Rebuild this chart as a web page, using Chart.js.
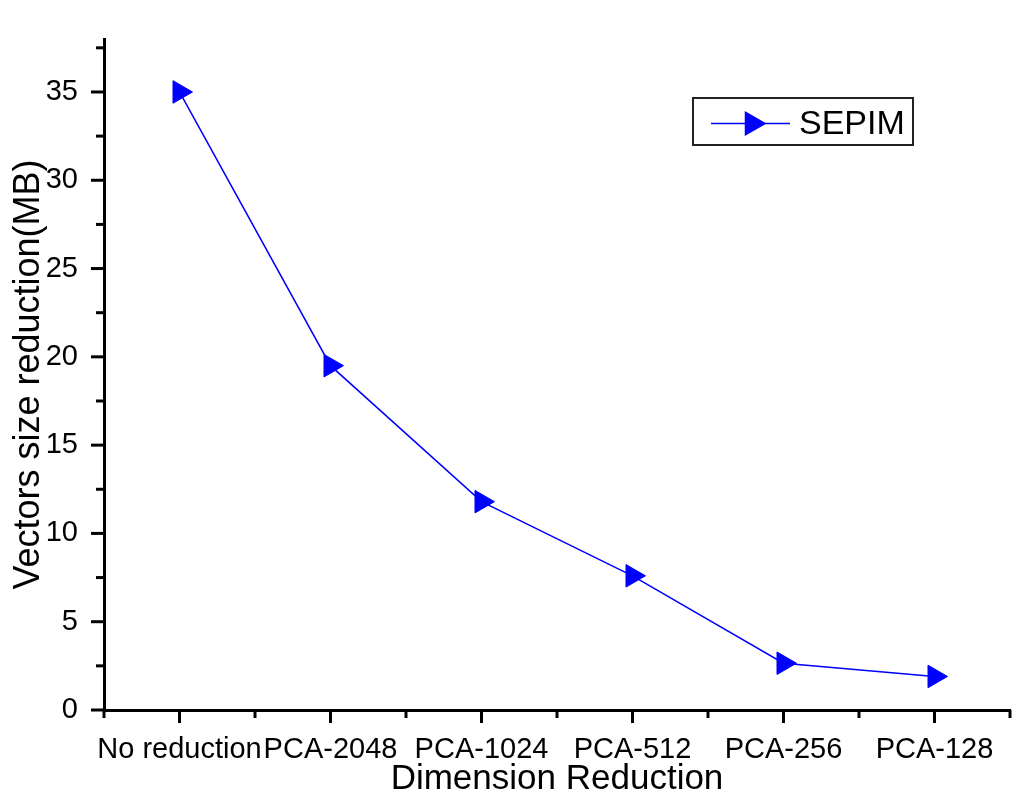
<!DOCTYPE html>
<html>
<head>
<meta charset="utf-8">
<script src="https://cdn.jsdelivr.net/npm/chart.js@4"></script>
<style>
  body { margin: 0; background: #fff; }
  #wrap { width: 1024px; height: 810px; }
</style>
</head>
<body>
<div id="wrap"><canvas id="chart"></canvas></div>
<script>
// Données
const categories = ["No reduction", "PCA-2048", "PCA-1024", "PCA-512", "PCA-256", "PCA-128"];
const sepim = [35, 19.5, 11.8, 7.6, 2.65, 1.9];
const yTicks = [0, 5, 10, 15, 20, 25, 30, 35];
const seriesName = "SEPIM";

const FONT = "'Liberation Sans', Arial, sans-serif";

// Petits traits des axes (majeurs + mineurs)
const tickMarks = {
  id: 'tickMarks',
  afterDraw(chart) {
    const c = chart.ctx, x = chart.scales.x, y = chart.scales.y;
    const area = chart.chartArea;
    c.save();
    c.strokeStyle = '#000';
    c.lineWidth = 3;
    // axe x
    for (let i = -0.5; i <= categories.length - 0.5; i += 0.5) {
      const px = x.getPixelForValue(i);
      const len = Number.isInteger(i) ? 13 : 8;
      c.beginPath();
      c.moveTo(px, area.bottom);
      c.lineTo(px, area.bottom + len);
      c.stroke();
    }
    // axe y
    for (let v = 0; v <= y.max; v += 2.5) {
      const py = y.getPixelForValue(v);
      const len = v % 5 === 0 ? 13 : 8;
      c.beginPath();
      c.moveTo(area.left, py);
      c.lineTo(area.left - len, py);
      c.stroke();
    }
    c.restore();
  }
};

// Légende dessinée dans la zone du graphique
const boxLegend = {
  id: 'boxLegend',
  afterDraw(chart) {
    const c = chart.ctx;
    const ds = chart.data.datasets[0];
    const bx = 693, by = 98, bw = 220, bh = 47;
    c.save();
    c.fillStyle = '#fff';
    c.fillRect(bx, by, bw, bh);
    c.strokeStyle = '#222';
    c.lineWidth = 2;
    c.strokeRect(bx, by, bw, bh);
    const my = by + bh / 2 + 2;
    c.strokeStyle = ds.borderColor;
    c.lineWidth = ds.borderWidth;
    c.beginPath();
    c.moveTo(711, my);
    c.lineTo(790, my);
    c.stroke();
    Chart.helpers.drawPoint(c, {pointStyle: 'triangle', radius: ds.pointRadius, rotation: 90, borderWidth: 1}, 752, my);
    c.fillStyle = ds.pointBackgroundColor;
    c.fill();
    c.fillStyle = '#000';
    c.font = '34px ' + FONT;
    c.textBaseline = 'middle';
    c.fillText(ds.label, 799, my + 1);
    c.restore();
  }
};

new Chart(document.getElementById('chart'), {
  type: 'line',
  data: {
    labels: categories,
    datasets: [{
      label: seriesName,
      data: sepim,
      borderColor: '#0000ff',
      borderWidth: 1.5,
      pointStyle: 'triangle',
      pointRotation: 90,
      pointRadius: 13,
      pointBackgroundColor: '#0000ff',
      pointBorderColor: '#0000ff',
      pointBorderWidth: 1,
      tension: 0
    }]
  },
  options: {
    responsive: true,
    maintainAspectRatio: false,
    animation: false,
    devicePixelRatio: 1,
    layout: { padding: { top: 39, right: 14, left: 0, bottom: 0 } },
    plugins: { legend: { display: false }, tooltip: { enabled: false } },
    scales: {
      x: {
        type: 'category',
        offset: true,
        grid: { display: false },
        border: { display: true, color: '#000', width: 3 },
        ticks: { color: '#000', font: { family: FONT, size: 29 }, padding: 15, maxRotation: 0, autoSkip: false },
        title: { display: true, text: 'Dimension Reduction', color: '#000', font: { family: FONT, size: 35 }, padding: { top: 0, bottom: 10 } },
        afterFit(s) { s.height = 100; }
      },
      y: {
        min: 0,
        max: 38,
        grid: { display: false },
        border: { display: true, color: '#000', width: 3 },
        afterBuildTicks(s) { s.ticks = yTicks.map(v => ({ value: v })); },
        ticks: { color: '#000', font: { family: FONT, size: 29 }, padding: 18 },
        title: { display: true, text: 'Vectors size reduction(MB)', color: '#000', font: { family: FONT, size: 36 }, padding: { top: 7, bottom: 0 } },
        afterFit(s) { s.width = 104; }
      }
    }
  },
  plugins: [tickMarks, boxLegend]
});
</script>
</body>
</html>
